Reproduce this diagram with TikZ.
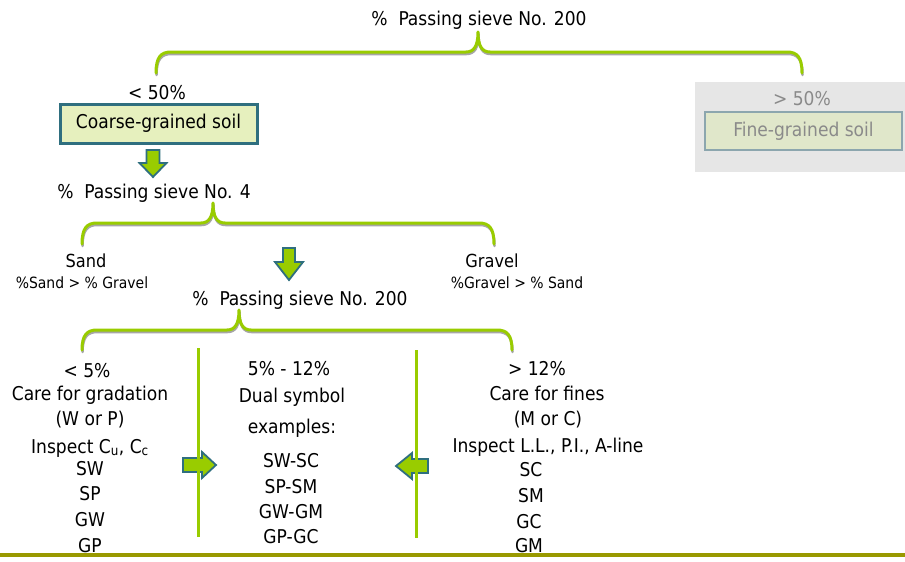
\documentclass[tikz,border=0pt]{standalone}
\usepackage{fontspec}
\setmainfont{DejaVu Sans Condensed}
\definecolor{lgreen}{HTML}{99CC00}
\definecolor{teal2}{HTML}{2F6F7F}
\definecolor{olive2}{HTML}{999900}
\definecolor{boxfill}{HTML}{E6F0BE}
\definecolor{grayarea}{HTML}{E6E6E6}
\definecolor{grayborder}{HTML}{8CA6AE}
\definecolor{grayboxfill}{HTML}{E0E7CA}
\definecolor{graytext}{HTML}{8A8A8A}
\newcommand\sbrace[6]{(#1,#5) .. controls (#1,#4+5) and (#1+5,#4) .. (#1+15,#4) -- (#3-12,#4) .. controls (#3-4,#4) and (#3,#4-6) .. (#3,#6) .. controls (#3,#4-6) and (#3+4,#4) .. (#3+12,#4) -- (#2-15,#4) .. controls (#2-5,#4) and (#2,#4+5) .. (#2,#5)}
\newcommand\darrowpath[6]{(#1-#3,#2) -- (#1+#3,#2) -- (#1+#3,#2+#5) -- (#1+#4,#2+#5) -- (#1,#2+#6) -- (#1-#4,#2+#5) -- (#1-#3,#2+#5) -- cycle}
\tikzset{
  txt/.style={anchor=base, inner sep=0pt, font=\fontsize{19}{19}\selectfont},
  smalltxt/.style={anchor=base, inner sep=0pt, font=\fontsize{15.5}{16}\selectfont},
  bracegreen/.style={draw=lgreen, line width=3pt, line cap=round, line join=round},
  braceshadow/.style={draw=gray!70, line width=2.5pt, line cap=round, line join=round, xshift=0.5pt, yshift=-2pt},
  blockarrow/.style={fill=lgreen, draw=teal2, line width=1.8pt, line join=miter},
  divider/.style={draw=lgreen, line width=3pt}
}
\begin{document}
\begin{tikzpicture}[x=1pt,y=-1pt]
\useasboundingbox (0,0) rectangle (905,562);
\fill[white] (0,0) rectangle (905,562);

% grayed-out fine-grained branch
\fill[grayarea] (695,82) rectangle (905,172);
\node[txt, text=graytext] (gt50) at (802,105) {> 50\%};
\node[draw=grayborder, line width=2pt, fill=grayboxfill, minimum width=197pt, minimum height=38pt, inner sep=0pt, text=graytext, font=\fontsize{19}{19}\selectfont] (fine) at (803.5,131) {Fine-grained soil};

% top title and brace
\node[txt] (t1) at (479,25) {\%\ \ Passing sieve No. 200};
\draw[braceshadow] \sbrace{156}{802}{478}{52}{73}{32};
\draw[bracegreen] \sbrace{156}{802}{478}{52}{73}{32};

\node[txt] (lt50) at (157,99) {< 50\%};
\node[draw=teal2, line width=3pt, fill=boxfill, minimum width=197pt, minimum height=39pt, inner sep=0pt, font=\fontsize{19}{19}\selectfont] (coarse) at (158.5,123.5) {Coarse-grained soil};

\filldraw[blockarrow] \darrowpath{153}{150}{6.5}{13.5}{13}{27};

\node[txt] (t2) at (154,198) {\%\ \ Passing sieve No. 4};
\draw[braceshadow] \sbrace{82}{494}{213}{223}{244}{203};
\draw[bracegreen] \sbrace{82}{494}{213}{223}{244}{203};

\node[txt, font=\fontsize{18}{18}\selectfont] (sand) at (86,267) {Sand};
\node[smalltxt] (sandc) at (82,288) {\%Sand > \% Gravel};
\node[txt, font=\fontsize{18}{18}\selectfont] (gravel) at (492,267) {Gravel};
\node[smalltxt] (gravelc) at (517,288) {\%Gravel > \% Sand};

\filldraw[blockarrow] \darrowpath{289}{248}{6}{14}{14}{32};

\node[txt] (t3) at (300,305) {\%\ \ Passing sieve No. 200};
\draw[braceshadow] \sbrace{82}{512}{239}{330}{350}{310};
\draw[bracegreen] \sbrace{82}{512}{239}{330}{350}{310};

% left column
\node[txt] (l1) at (87,377) {< 5\%};
\node[txt] (l2) at (90,400) {Care for gradation};
\node[txt] (l3) at (90,425) {(W or P)};
\node[txt] (l4) at (90,453) {Inspect C\textsubscript{u}, C\textsubscript{c}};
\node[txt] (l5) at (90,475) {SW};
\node[txt] (l6) at (90,500) {SP};
\node[txt] (l7) at (90,526) {GW};
\node[txt] (l8) at (90,552) {GP};

% middle column
\node[txt] (m1) at (289,375) {5\% - 12\%};
\node[txt] (m2) at (292,402) {Dual symbol};
\node[txt] (m3) at (292,433) {examples:};
\node[txt] (m4) at (291,467) {SW-SC};
\node[txt] (m5) at (291,493) {SP-SM};
\node[txt] (m6) at (291,518) {GW-GM};
\node[txt] (m7) at (291,543) {GP-GC};

% right column
\node[txt] (r1) at (537,375) {> 12\%};
\node[txt] (r2) at (547,400) {Care for fines};
\node[txt] (r3) at (548,425) {(M or C)};
\node[txt] (r4) at (548,452) {Inspect L.L., P.I., A-line};
\node[txt] (r5) at (531,476) {SC};
\node[txt] (r6) at (531,502) {SM};
\node[txt] (r7) at (529,528) {GC};
\node[txt] (r8) at (529,552) {GM};

% side arrows
\filldraw[blockarrow] (183,458) -- (202,458) -- (202,452) -- (216,465) -- (202,478) -- (202,472) -- (183,472) -- cycle;
\filldraw[blockarrow] (428,459) -- (412,459) -- (412,453) -- (396,466) -- (412,479) -- (412,473) -- (428,473) -- cycle;

% dividers
\coordinate (d1a) at (198,348);
\coordinate (d1b) at (198,537);
\coordinate (d2a) at (416,350);
\coordinate (d2b) at (416,538);
\draw[divider] (d1a) -- (d1b);
\draw[divider] (d2a) -- (d2b);

% bottom rule
\coordinate (ba) at (0,555);
\coordinate (bb) at (905,555);
\draw[draw=olive2, line width=4pt] (ba) -- (bb);
\end{tikzpicture}
\end{document}
